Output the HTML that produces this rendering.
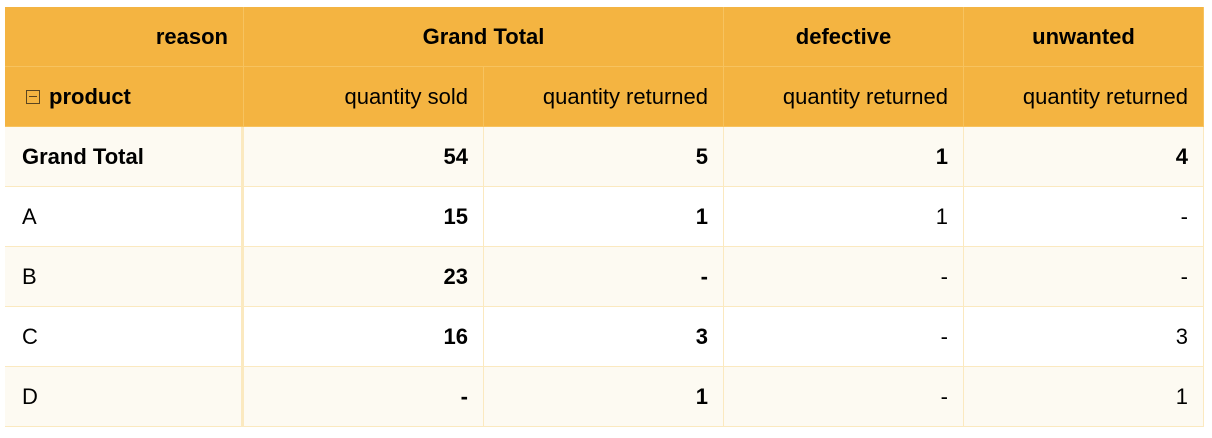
<!DOCTYPE html>
<html><head><meta charset="utf-8"><style>
body{margin:0;width:1212px;height:438px;background:#fff;font-family:"Liberation Sans",sans-serif;overflow:hidden}
.c{position:absolute;box-sizing:border-box;display:flex;align-items:center;font-size:22px;color:#000;padding:0 15px;border-right:1px solid #fbe9c0;border-bottom:1px solid #fbe9c0}
.h{background:#f4b441;border-color:#f7c35f}
.r{justify-content:flex-end}.m{justify-content:center}.b{font-weight:bold}
.alt{background:#fdfaf2}.w{background:#fff}
</style></head><body>
<div id="t"></div>
<script>
const products=["Grand Total","A","B","C","D"];
const sold=["54","15","23","16","-"];
const retTotal=["5","1","-","3","1"];
const defective=["1","1","-","-","-"];
const unwanted=["4","-","-","3","1"];
const t=document.getElementById('t');
const X=[5,244,484,724,964,1204],Y0=7,RH=60;
function cell(x,y,w,h,txt,cls,name,inter){
 const d=document.createElement('div');d.className='c '+cls;
 d.style.left=x+'px';d.style.top=y+'px';d.style.width=w+'px';d.style.height=h+'px';
 d.innerHTML=txt;
 
 
 t.appendChild(d);return d;}
cell(X[0],Y0,X[1]-X[0],RH,'reason','h r b','reason-header',false);
cell(X[1],Y0,X[3]-X[1],RH,'Grand Total','h m b','grand-total-header',false);
cell(X[3],Y0,X[4]-X[3],RH,'defective','h m b','defective-header',false);
cell(X[4],Y0,X[5]-X[4],RH,'unwanted','h m b','unwanted-header',false);
const ph=cell(X[0],Y0+RH,X[1]-X[0],RH,'<span style="display:inline-block;width:12px;height:12px;border:1.5px solid #5a4520;margin-right:9px;position:relative;top:0"><span style="position:absolute;left:2px;right:2px;top:5px;height:1.5px;background:#5a4520"></span></span>product','h b','product-header',true);
ph.style.padding='0 0 0 21px';
const subs=['quantity sold','quantity returned','quantity returned','quantity returned'];
subs.forEach((s,i)=>cell(X[i+1],Y0+RH,X[i+2]-X[i+1],RH,s,'h r','measure-header-'+(i+1),false));
const cols=[sold,retTotal,defective,unwanted];
products.forEach((p,r)=>{
 const y=Y0+RH*(2+r),bg=r%2===0?'alt':'w';
 const lc=cell(X[0],y,X[1]-X[0],RH,p,bg+(r===0?' b':''),'row-label-'+p.toLowerCase().replace(' ','-'),false);
 lc.style.borderRight='3px solid #fbe9c0';lc.style.paddingLeft='17px';
 cols.forEach((c,i)=>{
  const bold=(i<2||r===0)?' b':'';
  cell(X[i+1],y,X[i+2]-X[i+1],RH,c[r],bg+' r'+bold,'value-'+p.toLowerCase().replace(' ','-')+'-col'+(i+1),false);
 });
});
</script>
</body></html>
